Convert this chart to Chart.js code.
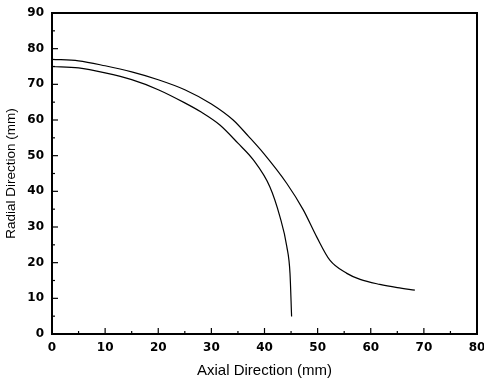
<!DOCTYPE html>
<html>
<head>
<meta charset="utf-8">
<script src="https://cdn.jsdelivr.net/npm/chart.js@4"></script>
<style>
  html, body { margin: 0; padding: 0; background: #fff; }
  #wrap { width: 484px; height: 380px; }
</style>
</head>
<body>
<div id="wrap"><canvas id="profileChart"></canvas></div>
<script>
// inner profile (ends near x=45)
const innerX = [0, 5, 10, 15, 20, 25, 28, 31.6, 35, 37.9, 41, 42.9, 44.2, 44.8, 45.1];
const innerY = [75, 74.6, 73.2, 71.3, 68.5, 64.8, 62.3, 58.6, 53.5, 48.8, 41.3, 32.9, 24.5, 17, 4.9];

// outer profile (tails off to x=68)
const outerX = [0, 5, 10, 15, 20, 25, 30, 34.1, 37, 39.8, 44.2, 47.3, 49.8, 52.3, 55.5, 58, 61.7, 65, 68.3];
const outerY = [77, 76.6, 75.2, 73.5, 71.3, 68.5, 64.5, 60, 55.4, 50.7, 42.2, 34.8, 27.3, 20.7, 17, 15.3, 13.9, 13, 12.3];

const xTicks = [0, 10, 20, 30, 40, 50, 60, 70, 80];
const yTicks = [0, 10, 20, 30, 40, 50, 60, 70, 80, 90];

const toPoints = (xs, ys) => xs.map((x, i) => ({ x, y: ys[i] }));

const fontFamily = '"Liberation Sans", Arial, sans-serif';
const tickFamily = '"DejaVu Sans", "Liberation Sans", sans-serif';
const lineWidth = 1.2;

// frame + inward ticks, drawn from the scales
const frameTicks = {
  id: 'frameTicks',
  afterDraw(chart) {
    const { ctx, chartArea: a, scales } = chart;
    const x = scales.x;
    const y = scales.y;
    ctx.save();
    ctx.strokeStyle = '#000';
    ctx.lineWidth = 1.2;
    xTicks.forEach((v, i) => {
      const px = x.getPixelForValue(v);
      ctx.beginPath();
      ctx.moveTo(px, a.bottom);
      ctx.lineTo(px, a.bottom - 6);
      ctx.stroke();
      if (i < xTicks.length - 1) {
        const mx = x.getPixelForValue(v + 5);
        ctx.beginPath();
        ctx.moveTo(mx, a.bottom);
        ctx.lineTo(mx, a.bottom - 3);
        ctx.stroke();
      }
    });
    yTicks.forEach((v, i) => {
      const py = y.getPixelForValue(v);
      ctx.beginPath();
      ctx.moveTo(a.left, py);
      ctx.lineTo(a.left + 6, py);
      ctx.stroke();
      if (i < yTicks.length - 1) {
        const my = y.getPixelForValue(v + 5);
        ctx.beginPath();
        ctx.moveTo(a.left, my);
        ctx.lineTo(a.left + 3, my);
        ctx.stroke();
      }
    });
    ctx.lineWidth = 2;
    ctx.strokeRect(a.left, a.top, a.right - a.left, a.bottom - a.top);
    ctx.restore();
  }
};

const lineStyle = {
  showLine: true,
  borderColor: '#000',
  backgroundColor: '#000',
  borderWidth: lineWidth,
  pointRadius: 0,
  cubicInterpolationMode: 'monotone',
  fill: false
};

new Chart(document.getElementById('profileChart'), {
  type: 'scatter',
  data: {
    datasets: [
      { label: 'inner', data: toPoints(innerX, innerY), ...lineStyle },
      { label: 'outer', data: toPoints(outerX, outerY), ...lineStyle }
    ]
  },
  options: {
    responsive: true,
    maintainAspectRatio: false,
    animation: false,
    layout: { padding: { left: 0, right: 7, top: 13, bottom: 0 } },
    plugins: {
      legend: { display: false },
      tooltip: { enabled: false }
    },
    scales: {
      x: {
        type: 'linear',
        min: 0,
        max: 80,
        afterBuildTicks: s => { s.ticks = xTicks.map(v => ({ value: v })); },
        afterFit: s => {
          s.height = 46;
          s.paddingLeft = 0;
          s.paddingRight = 0;
        },
        grid: { display: false, drawTicks: false },
        border: { display: false },
        ticks: {
          padding: 7,
          color: '#000',
          font: { family: tickFamily, size: 12, weight: 'bold' },
          maxRotation: 0
        },
        title: {
          display: true,
          text: 'Axial Direction (mm)',
          color: '#000',
          padding: { top: 0, bottom: 0 },
          font: { family: fontFamily, size: 15 }
        }
      },
      y: {
        type: 'linear',
        min: 0,
        max: 90,
        afterBuildTicks: s => { s.ticks = yTicks.map(v => ({ value: v })); },
        afterFit: s => {
          s.width = 52;
          s.paddingTop = 0;
          s.paddingBottom = 0;
        },
        grid: { display: false, drawTicks: false },
        border: { display: false },
        ticks: {
          padding: 8,
          color: '#000',
          font: { family: tickFamily, size: 12, weight: 'bold' }
        },
        title: {
          display: true,
          text: 'Radial Direction (mm)',
          color: '#000',
          padding: { top: 3, bottom: 0 },
          font: { family: fontFamily, size: 13.5 }
        }
      }
    }
  },
  plugins: [frameTicks]
});
</script>
</body>
</html>
